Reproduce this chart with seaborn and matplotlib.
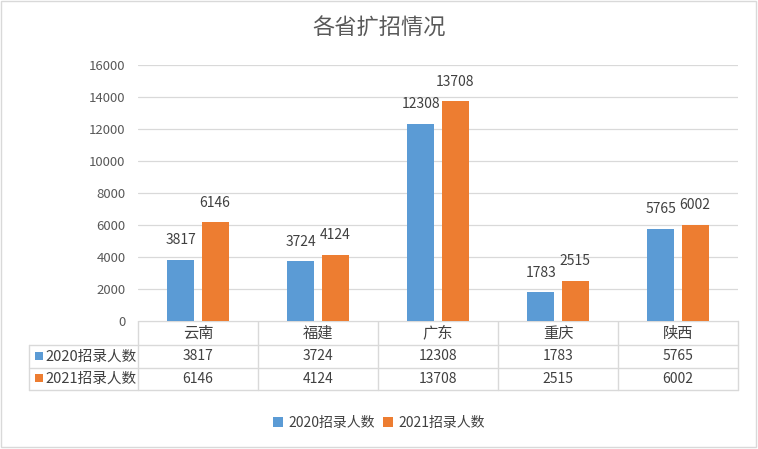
import matplotlib
matplotlib.use("Agg")
import matplotlib.pyplot as plt
from matplotlib.patches import Rectangle
import seaborn as sns
import pandas as pd

provinces = ["云南", "福建", "广东", "重庆", "陕西"]
series_names = ["2020招录人数", "2021招录人数"]
values_2020 = [3817, 3724, 12308, 1783, 5765]
values_2021 = [6146, 4124, 13708, 2515, 6002]
y_ticks = [0, 2000, 4000, 6000, 8000, 10000, 12000, 14000, 16000]
title = "各省扩招情况"
colors = ["#5B9BD5", "#ED7D31"]

sns.set_style("white")
plt.rcParams["font.family"] = ["Noto Sans CJK SC", "DejaVu Sans"]

W, H = 758, 449
fig = plt.figure(figsize=(W / 100, H / 100), dpi=100)

# overlay for frame, table, etc (pixel coords)
ov = fig.add_axes([0, 0, 1, 1])
ov.set_xlim(0, W)
ov.set_ylim(H, 0)
ov.axis("off")

L, R, T, B = 138, 738, 64.5, 321
ax = fig.add_axes([L / W, (H - B) / H, (R - L) / W, (B - T) / H])

df = pd.DataFrame({
    "省份": provinces * 2,
    "系列": [series_names[0]] * len(provinces) + [series_names[1]] * len(provinces),
    "人数": values_2020 + values_2021,
})
sns.barplot(data=df, x="省份", y="人数", hue="系列", palette=colors,
            width=0.57, gap=0.21, ax=ax, legend=False, saturation=1,
            linewidth=0, edgecolor="none")

ax.set_xlim(-0.5, len(provinces) - 0.5)
ax.set_ylim(0, 16000)
ax.set_yticks(y_ticks)
ax.set_yticklabels([str(v) for v in y_ticks], fontsize=9.5, color="#595959")
ax.tick_params(axis="y", length=0, pad=9)
ax.set_xticks([])
ax.set_xlabel("")
ax.set_ylabel("")
ax.grid(axis="y", color="#D9D9D9", linewidth=0.9)
ax.set_axisbelow(True)
for s in ["top", "right", "left", "bottom"]:
    ax.spines[s].set_visible(False)

for cont in ax.containers:
    ax.bar_label(cont, padding=9, fontsize=10, color="#404040")

# title
ov.text(W / 2, 28, title, ha="center", va="center", fontsize=16, color="#595959")

# outer frame
ov.add_patch(Rectangle((1, 1), W - 3, H - 3, fill=False, edgecolor="#D9D9D9", linewidth=1))

# data table
lc = "#D9D9D9"
lw = 1.0
y_rows = [321, 345, 367.5, 390]
x_cols = [138 + 120 * i for i in range(6)]
x_left = 29
ov.plot([L, R], [y_rows[0], y_rows[0]], color=lc, lw=lw)
for yy in y_rows[1:]:
    ov.plot([x_left, R], [yy, yy], color=lc, lw=lw)
for xx in x_cols:
    ov.plot([xx, xx], [y_rows[0], y_rows[-1]], color=lc, lw=lw)
ov.plot([x_left, x_left], [y_rows[1], y_rows[-1]], color=lc, lw=lw)

for i, p in enumerate(provinces):
    cx = (x_cols[i] + x_cols[i + 1]) / 2
    ov.text(cx, (y_rows[0] + y_rows[1]) / 2, p, ha="center", va="center",
            fontsize=11, color="#404040")
    ov.text(cx, (y_rows[1] + y_rows[2]) / 2, str(values_2020[i]), ha="center",
            va="center", fontsize=10, color="#404040")
    ov.text(cx, (y_rows[2] + y_rows[3]) / 2, str(values_2021[i]), ha="center",
            va="center", fontsize=10, color="#404040")

for r, (name, c) in enumerate(zip(series_names, colors)):
    cy = (y_rows[r + 1] + y_rows[r + 2]) / 2
    ov.add_patch(Rectangle((35, cy - 4.5), 8, 8, facecolor=c, edgecolor="none"))
    ov.text(45, cy, name, ha="left", va="center", fontsize=10.5, color="#404040")

# legend
handles = [Rectangle((0, 0), 1, 1, facecolor=c, edgecolor="none") for c in colors]
fig.legend(handles, series_names, loc="center", bbox_to_anchor=(0.5, 1 - 423 / H),
           ncol=2, frameon=False, fontsize=10, handlelength=0.7, handleheight=0.7,
           handletextpad=0.4, columnspacing=0.6, labelcolor="#404040")

fig.savefig("out.png", dpi=100)
